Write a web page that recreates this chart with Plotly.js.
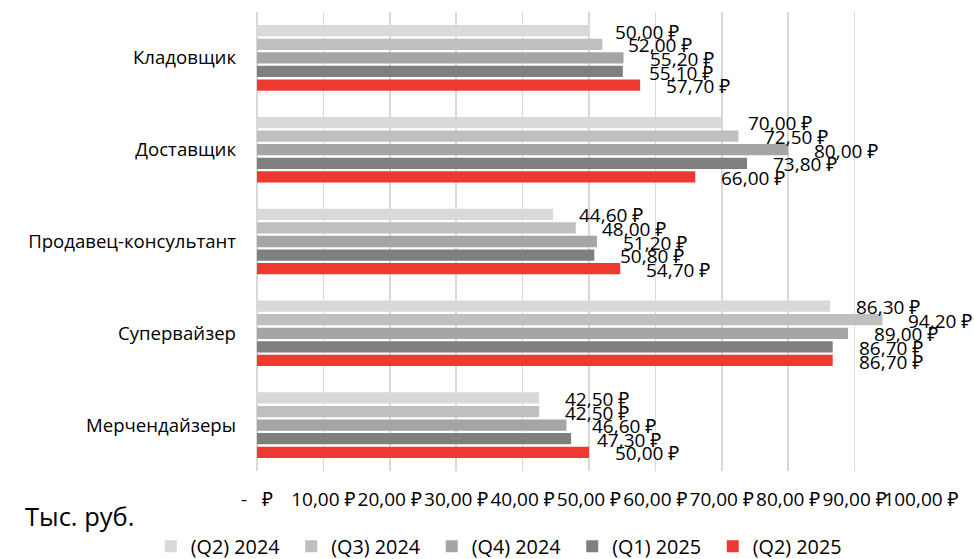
<!DOCTYPE html>
<html>
<head>
<meta charset="utf-8">
<script src="https://cdn.plot.ly/plotly-3.0.1.min.js"></script>
<style>html,body{margin:0;padding:0;background:#fff;}#chart{width:974px;height:559px;}</style>
</head>
<body>
<div id="chart"></div>
<script>
const categories = ["Кладовщик", "Доставщик", "Продавец-консультант", "Супервайзер", "Мерчендайзеры"];
const seriesNames = ["(Q2) 2024", "(Q3) 2024", "(Q4) 2024", "(Q1) 2025", "(Q2) 2025"];
const q2_2024 = [50.0, 70.0, 44.6, 86.3, 42.5];
const q3_2024 = [52.0, 72.5, 48.0, 94.2, 42.5];
const q4_2024 = [55.2, 80.0, 51.2, 89.0, 46.6];
const q1_2025 = [55.1, 73.8, 50.8, 86.7, 47.3];
const q2_2025 = [57.7, 66.0, 54.7, 86.7, 50.0];
const seriesColors = ["#d9d9d9", "#bfbfbf", "#a5a5a5", "#7f7f7f", "#ee3831"];
const tickVals = [0, 10, 20, 30, 40, 50, 60, 70, 80, 90, 100];
const tickText = ["-\u00a0\u00a0\u00a0₽", "10,00 ₽", "20,00 ₽", "30,00 ₽", "40,00 ₽", "50,00 ₽", "60,00 ₽", "70,00 ₽", "80,00 ₽", "90,00 ₽", "100,00 ₽"];
const unitLabel = "Тыс. руб.";

const allSeries = [q2_2024, q3_2024, q4_2024, q1_2025, q2_2025];
const FONT = "'Open Sans', 'Noto Sans', sans-serif";

function fmt(v) {
  return v.toFixed(2).replace('.', ',') + ' ₽';
}

const traces = allSeries.map((vals, i) => ({
  type: 'bar',
  orientation: 'h',
  name: seriesNames[i],
  x: vals,
  y: categories,
  marker: {color: seriesColors[i]},
  hoverinfo: 'skip'
}));

const pitch = 13.6;
const annotations = [];
allSeries.forEach((vals, i) => {
  vals.forEach((v, j) => {
    annotations.push({
      x: v, y: categories[j], xref: 'x', yref: 'y',
      text: fmt(v), showarrow: false,
      xanchor: 'left', yanchor: 'middle',
      xshift: 24, yshift: (2 - i) * pitch - 1,
      font: {family: FONT, size: 19, color: '#000'}
    });
  });
});
annotations.push({
  x: -0.352, y: -0.099, xref: 'paper', yref: 'paper',
  text: unitLabel, showarrow: false, xanchor: 'left', yanchor: 'middle',
  font: {family: FONT, size: 25.5, color: '#000'}
});

const layout = {
  width: 974, height: 559,
  margin: {l: 257, r: 53, t: 11.5, b: 87.5, autoexpand: false},
  paper_bgcolor: '#fff', plot_bgcolor: '#fff',
  barmode: 'group', bargap: 0.26, bargroupgap: 0.17,
  showlegend: true,
  legend: {
    orientation: 'h', x: -0.16, xanchor: 'left', y: -0.164, yanchor: 'middle',
    traceorder: 'normal',
    font: {family: FONT, size: 19.8, color: '#000'},
    entrywidth: 95.5, entrywidthmode: 'pixels'
  },
  xaxis: {
    range: [0, 100], tickvals: tickVals, ticktext: tickText, tickangle: 0,
    showgrid: true, gridcolor: '#d9d9d9', gridwidth: 1.5,
    zeroline: true, zerolinecolor: '#d9d9d9', zerolinewidth: 1.5,
    showline: false, ticks: '', ticklabelstandoff: 15,
    tickfont: {family: FONT, size: 19, color: '#000'}
  },
  yaxis: {
    type: 'category', autorange: 'reversed', showgrid: false, zeroline: false,
    showline: false, ticks: '', ticklabelstandoff: 20,
    tickfont: {family: FONT, size: 18.6, color: '#000'}
  },
  annotations: annotations
};

Plotly.newPlot('chart', traces, layout, {displayModeBar: false, staticPlot: true});
</script>
</body>
</html>
